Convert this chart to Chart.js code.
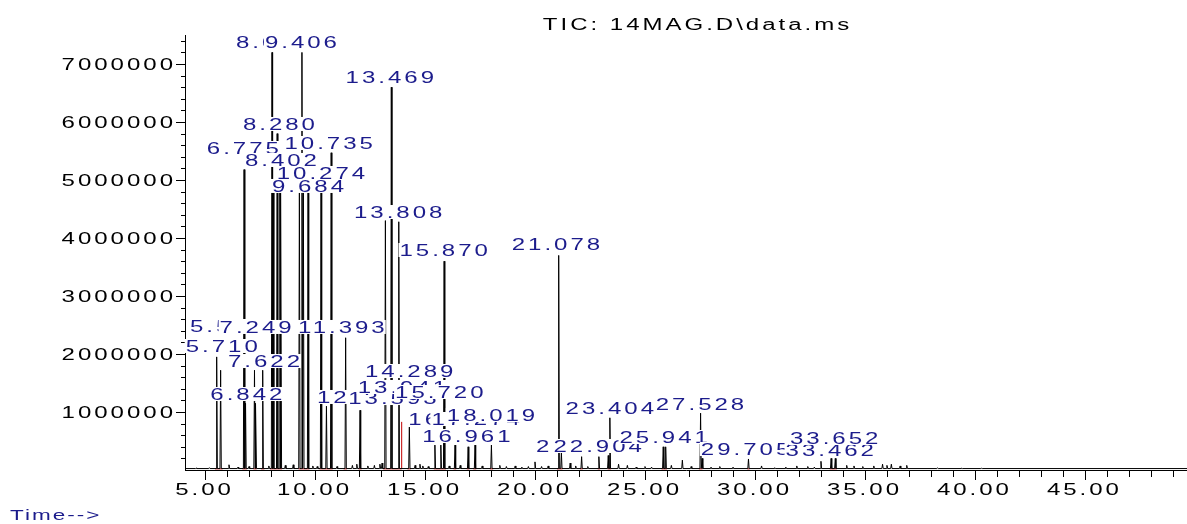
<!DOCTYPE html>
<html>
<head>
<meta charset="utf-8">
<title>TIC: 14MAG.D\data.ms</title>
<script src="https://cdn.jsdelivr.net/npm/chart.js@4.4.1/dist/chart.umd.min.js"></script>
<style>
  html, body { margin: 0; padding: 0; background: #fff; }
  #wrap { width: 1187px; height: 524px; }
</style>
</head>
<body>
<div id="wrap"><canvas id="tic" width="1187" height="524"></canvas></div>
<script>
// ---- data ----
// retention time (min) and apex abundance of the peaks
const peakTimes = [5.53, 5.71, 6.775, 6.842, 7.249, 7.31, 7.622, 8.045, 8.10, 8.28, 8.402, 8.45,
  9.29, 9.406, 9.47, 9.684, 10.274, 10.52, 10.735, 11.393, 12.047, 13.20, 13.469, 13.808,
  14.289, 15.45, 15.72, 15.87, 16.365, 16.961, 17.274, 18.019, 21.078, 21.2, 22.12, 22.904,
  23.33, 23.404, 25.83, 25.941, 27.528, 27.6, 29.705, 33.462, 33.652];
const peakHeights = [1950000, 1720000, 5180000, 1150000, 1720000, 1150000, 1720000, 7200000, 4900000, 5800000, 5200000, 4900000,
  4900000, 7200000, 4900000, 4800000, 5000000, 1100000, 5470000, 2280000, 1030000, 4300000, 6600000, 4280000,
  740000, 430000, 430000, 3600000, 430000, 400000, 430000, 430000, 3700000, 300000, 230000, 230000,
  250000, 900000, 400000, 400000, 980000, 200000, 190000, 200000, 200000];

// small bumps of the baseline noise
const noiseTimes = [4.6, 5.2, 6.09, 6.5, 7.0, 7.9, 8.65, 9.01, 9.9, 10.1, 11.0, 11.7, 11.9, 12.4, 12.7, 12.95,
  13.05, 14.55, 14.77, 14.9, 15.15, 16.1, 16.6, 17.6, 18.4, 18.7, 19.1, 19.4, 19.7, 20.0, 20.3, 20.6,
  21.6, 21.85, 22.4, 23.8, 24.2, 24.6, 25.0, 25.3, 26.2, 26.7, 27.1, 28.0, 28.4, 29.0, 30.3, 30.9,
  31.4, 31.9, 32.4, 32.7, 33.0, 34.17, 34.5, 34.9, 35.4, 35.8, 36.0, 36.2, 36.6, 36.9, 38.3, 39.4, 40.3];
const noiseHeights = [35000, 40000, 90000, 50000, 60000, 70000, 80000, 90000, 70000, 60000, 60000, 80000, 100000, 70000, 80000, 100000,
  120000, 80000, 100000, 70000, 60000, 70000, 80000, 70000, 80000, 60000, 70000, 50000, 60000, 140000, 60000, 70000,
  120000, 70000, 60000, 100000, 80000, 50000, 60000, 50000, 80000, 170000, 60000, 50000, 60000, 50000, 70000, 40000,
  50000, 70000, 60000, 50000, 150000, 80000, 70000, 60000, 70000, 100000, 80000, 100000, 70000, 80000, 35000, 35000, 30000];
const baselineLevel = 25000;

// integrated peaks: start / end of the red baselines
const intStarts = [5.45, 6.7, 7.2, 7.55, 7.95, 9.25, 10.2, 11.3, 11.98, 13.1, 14.2, 15.4, 16.3, 16.9, 17.2, 17.95,
  21.0, 22.05, 22.85, 23.3, 25.75, 27.45, 29.65, 33.4];
const intEnds = [5.8, 6.9, 7.35, 7.7, 8.5, 9.75, 10.8, 11.45, 12.12, 13.94, 14.35, 15.95, 16.42, 17.02, 17.33, 18.1,
  21.25, 22.17, 22.96, 23.46, 26.0, 27.62, 29.76, 33.72];
const dropTime = 13.94;
const dropTop = 830000;

// axis ticks
const xTickValues = [5, 10, 15, 20, 25, 30, 35, 40, 45];
const xTickLabels = ['5.00', '10.00', '15.00', '20.00', '25.00', '30.00', '35.00', '40.00', '45.00'];
const yTickValues = [1000000, 2000000, 3000000, 4000000, 5000000, 6000000, 7000000];
const yTickLabels = ['1000000', '2000000', '3000000', '4000000', '5000000', '6000000', '7000000'];

// ---- peak annotations (text, where the label sits: time / abundance) ----
const peakLabels = [
  ['5.532', 5.95, 2483000], ['5.710', 5.76, 2138000], ['6.775', 6.72, 5552000], ['6.842', 6.88, 1310000],
  ['7.249', 7.30, 2466000], ['7.622', 7.68, 1879000], ['8.047', 8.045, 7379000], ['8.280', 8.36, 5966000],
  ['8.402', 8.45, 5345000], ['9.406', 9.36, 7379000], ['9.684', 9.68, 4897000], ['10.274', 10.27, 5121000],
  ['10.735', 10.62, 5638000], ['11.393', 11.20, 2466000], ['12.047', 12.10, 1259000], ['13.593', 13.52, 1241000],
  ['13.941', 13.95, 1431000], ['13.469', 13.40, 6776000], ['13.808', 13.78, 4448000], ['14.289', 14.28, 1707000],
  ['15.720', 15.65, 1345000], ['15.870', 15.85, 3793000], ['16.365', 16.25, 879000], ['16.961', 16.88, 586000],
  ['17.274', 17.30, 879000], ['18.019', 18.00, 948000], ['21.078', 20.95, 3897000], ['22.120', 22.05, 414000],
  ['22.904', 22.85, 414000], ['23.404', 23.40, 1069000], ['25.941', 25.85, 569000], ['27.528', 27.50, 1138000],
  ['29.705', 29.55, 362000], ['33.462', 33.40, 345000], ['33.652', 33.60, 552000]
];

// build the TIC trace: baseline, each peak/bump rises and falls back
const events = [];
peakTimes.forEach((t, i) => events.push([t, peakHeights[i]]));
noiseTimes.forEach((t, i) => events.push([t, noiseHeights[i]]));
events.sort((a, b) => a[0] - b[0]);
const hw = 0.03;
const trace = [{ x: 4.09, y: baselineLevel }];
events.forEach(([t, h]) => {
  trace.push({ x: t - hw, y: baselineLevel }, { x: t, y: h }, { x: t + hw, y: baselineLevel });
});
trace.push({ x: 49.64, y: baselineLevel });

const redLines = [];
intStarts.forEach((s, i) => {
  redLines.push({ x: s, y: baselineLevel * 0.8 }, { x: intEnds[i], y: baselineLevel * 0.8 }, { x: intEnds[i], y: null });
});
redLines.push({ x: dropTime, y: baselineLevel }, { x: dropTime, y: dropTop });

const FONT = '16px "Liberation Sans", Arial, sans-serif';
const BLUE = '#1c1c8c';
const STRETCH = 1.5; // the instrument font is drawn wide

// width of text drawn wide with extra gap between letters
function textWidth(ctx, text, spacing) {
  ctx.letterSpacing = (spacing / STRETCH) + 'px';
  const w = ctx.measureText(text).width * STRETCH - spacing;
  ctx.letterSpacing = '0px';
  return w;
}

function spacedText(ctx, text, x, y, spacing, align) {
  const w = textWidth(ctx, text, spacing);
  let x0 = x;
  if (align === 'center') x0 = x - w / 2;
  if (align === 'right') x0 = x - w;
  ctx.save();
  ctx.translate(x0, y);
  ctx.scale(STRETCH, 1);
  ctx.letterSpacing = (spacing / STRETCH) + 'px';
  ctx.textAlign = 'left';
  ctx.fillText(text, 0, 0);
  ctx.restore();
  return w;
}

const decorations = {
  id: 'decorations',
  afterDraw(chart) {
    const ctx = chart.ctx;
    const xs = chart.scales.x, ys = chart.scales.y;
    const area = chart.chartArea;
    ctx.save();
    ctx.strokeStyle = '#000';
    ctx.lineWidth = 1;
    ctx.beginPath();
    // x ticks, one per minute, longer every 5
    for (let v = 5; v <= 49; v++) {
      const px = Math.round(xs.getPixelForValue(v)) + 0.5;
      const len = v % 5 === 0 ? 10 : 7;
      ctx.moveTo(px, area.bottom);
      ctx.lineTo(px, area.bottom + len);
    }
    // y ticks, every 200000, longer every million
    for (let v = 200000; v <= 7400000; v += 200000) {
      const py = Math.round(ys.getPixelForValue(v)) + 0.5;
      const len = v % 1000000 === 0 ? 9 : 4;
      ctx.moveTo(area.left - len, py);
      ctx.lineTo(area.left, py);
    }
    ctx.stroke();

    ctx.font = FONT;
    ctx.fillStyle = '#000';
    ctx.textBaseline = 'alphabetic';
    xTickValues.forEach((v, i) => {
      spacedText(ctx, xTickLabels[i], xs.getPixelForValue(v) - 2, 495, 3, 'center');
    });
    yTickValues.forEach((v, i) => {
      spacedText(ctx, yTickLabels[i], 173, ys.getPixelForValue(v) + 6, 3, 'right');
    });

    // title and axis caption
    spacedText(ctx, 'TIC: 14MAG.D\\data.ms', 696, 30, 3, 'center');
    ctx.fillStyle = BLUE;
    ctx.font = '15px "Liberation Sans", Arial, sans-serif';
    spacedText(ctx, 'Time-->', 10, 520, 2, 'left');

    // peak labels on white boxes, later ones cover earlier ones
    ctx.font = FONT;
    peakLabels.forEach(([text, t, level]) => {
      const cx = xs.getPixelForValue(t);
      const cy = ys.getPixelForValue(level);
      const w = textWidth(ctx, text, 3);
      const x0 = Math.max(area.left - 3, cx - w / 2);
      ctx.fillStyle = '#fff';
      ctx.fillRect(x0 - 1, cy - 7, w + 2, 14);
      ctx.fillStyle = BLUE;
      spacedText(ctx, text, x0, cy + 6, 3, 'left');
    });
    ctx.restore();
  }
};

new Chart(document.getElementById('tic'), {
  type: 'line',
  data: {
    datasets: [
      { data: trace, borderColor: '#000', borderWidth: 1, pointRadius: 0, tension: 0 },
      { data: redLines, borderColor: '#c00000', borderWidth: 1, pointRadius: 0, tension: 0, spanGaps: false }
    ]
  },
  options: {
    responsive: false,
    animation: false,
    devicePixelRatio: 1,
    layout: { padding: { top: 35, left: 0, right: 0, bottom: 0 } },
    plugins: { legend: { display: false }, tooltip: { enabled: false }, title: { display: false } },
    scales: {
      x: {
        type: 'linear', min: 4.09, max: 49.64,
        ticks: { display: false },
        grid: { display: false },
        border: { display: true, color: '#000', width: 1 },
        afterFit(scale) { scale.height = 54; }
      },
      y: {
        type: 'linear', min: 0, max: 7500000,
        ticks: { display: false },
        grid: { display: false },
        border: { display: true, color: '#000', width: 1 },
        afterFit(scale) { scale.width = 185; }
      }
    }
  },
  plugins: [decorations]
});
</script>
</body>
</html>
